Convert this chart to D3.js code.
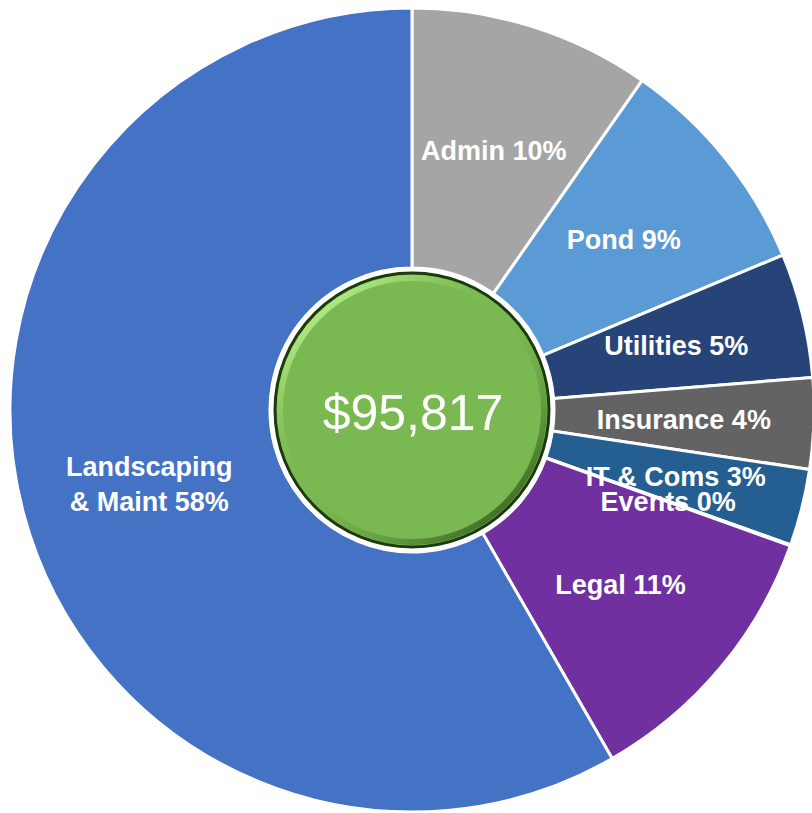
<!DOCTYPE html>
<html lang="en">
<head>
    <meta charset="UTF-8">
    <title>Budget donut</title>
    <style>
        html, body { margin: 0; padding: 0; background: #ffffff; overflow: hidden; }
        svg { display: block; }
    </style>
</head>
<body>
<script src="https://cdn.jsdelivr.net/npm/d3@7/dist/d3.min.js"></script>
<script>
    // budget categories, clockwise from 12 o'clock
    var categories = ["Admin", "Pond", "Utilities", "Insurance", "IT & Coms", "Events", "Legal", "Landscaping & Maint"];
    var amounts    = [9300, 8620, 4800, 3500, 2950, 40, 10750, 55857];
    var colors     = ["#A5A5A5", "#5B9BD5", "#264478", "#636363", "#255E91", "#255E91", "#7030A0", "#4472C4"];
    var totalLabel = "$95,817";

    var width = 812,
        height = 813;
    var cx = 412, cy = 410,
        outerR = 402, innerR = 142;

    var svg = d3.select("body")
        .append("svg")
        .attr("width", width)
        .attr("height", height);

    var defs = svg.append("defs");
    var hi = defs.append("linearGradient").attr("id", "bevelHi")
        .attr("x1", "15%").attr("y1", "10%").attr("x2", "85%").attr("y2", "90%");
    hi.append("stop").attr("offset", "0%").attr("stop-color", "#b4ec86").attr("stop-opacity", 1);
    hi.append("stop").attr("offset", "45%").attr("stop-color", "#7AB851").attr("stop-opacity", 0);
    hi.append("stop").attr("offset", "100%").attr("stop-color", "#2f5a1a").attr("stop-opacity", 0.8);

    var data = categories.map(function(c, i){ return {name: c, value: amounts[i], color: colors[i]}; });
    var total = d3.sum(amounts);

    var pie = d3.pie().sort(null).value(function(d){ return d.value; });
    var arc = d3.arc().innerRadius(innerR).outerRadius(outerR);

    var g = svg.append("g").attr("transform", "translate(" + cx + "," + cy + ")");

    var arcs = pie(data);

    g.selectAll("path.slice").data(arcs)
        .enter().append("path")
        .attr("class", "slice")
        .attr("d", arc)
        .attr("fill", function(d){ return d.data.color; })
        .attr("stroke", "#ffffff")
        .attr("stroke-width", 3)
        .attr("stroke-linejoin", "round");

    // center badge
    g.append("circle").attr("r", innerR + 1).attr("fill", "#ffffff");
    g.append("circle").attr("r", 137).attr("fill", "#7AB851")
        .attr("stroke", "#1c3a0e").attr("stroke-width", 3);
    g.append("circle").attr("r", 132).attr("fill", "none")
        .attr("stroke", "url(#bevelHi)").attr("stroke-width", 6);

    g.append("text")
        .attr("x", 1).attr("y", 3)
        .attr("text-anchor", "middle")
        .attr("dominant-baseline", "central")
        .attr("font-family", "'Liberation Sans', Arial, sans-serif")
        .attr("font-size", 50)
        .attr("fill", "#ffffff")
        .text(totalLabel);

    // slice labels at the arc centroid
    function pct(v){ return Math.round(v / total * 100) + "%"; }

    var labels = g.selectAll("text.lbl").data(arcs)
        .enter().append("text")
        .attr("class", "lbl")
        .attr("transform", function(d){ return "translate(" + arc.centroid(d) + ")"; })
        .attr("text-anchor", "middle")
        .attr("font-family", "'Liberation Sans', Arial, sans-serif")
        .attr("font-weight", "bold")
        .attr("font-size", 27)
        .attr("fill", "#ffffff");

    labels.each(function(d){
        var t = d3.select(this);
        var txt = d.data.name + " " + pct(d.data.value);
        if (d.data.name === "Landscaping & Maint") {
            t.append("tspan").attr("x", 0).attr("dy", "-0.15em").text("Landscaping");
            t.append("tspan").attr("x", 0).attr("dy", "1.3em").text("& Maint " + pct(d.data.value));
        } else {
            t.append("tspan").attr("x", 0).attr("dy", "0.35em").text(txt);
        }
    });
</script>
</body>
</html>
